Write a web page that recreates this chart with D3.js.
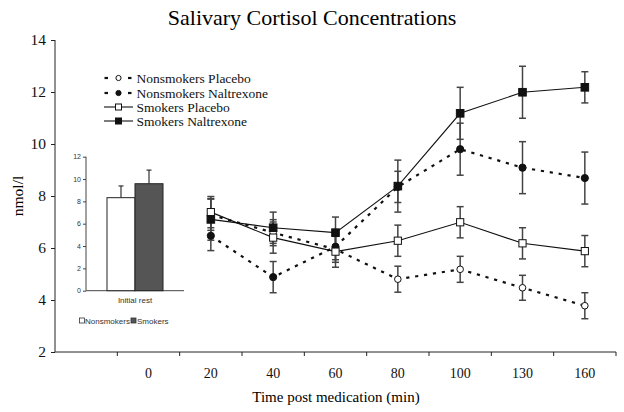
<!DOCTYPE html>
<html><head><meta charset="utf-8">
<script src="https://cdn.jsdelivr.net/npm/d3@7"></script>
<style>body{margin:0;background:#fff}svg{display:block}</style>
</head><body>
<svg id="c" width="624" height="412"></svg>
<script>
// ---- data ----
const categories = ["", "0", "20", "40", "60", "80", "100", "130", "160"];
const times = ["20", "40", "60", "80", "100", "130", "160"];
const yTicks = [2, 4, 6, 8, 10, 12, 14];

const nonsmokersPlacebo = [7.28, 6.59, 5.95, 4.80, 5.18, 4.47, 3.78];
const nonsmokersPlaceboErr = [0.6, 0.5, 0.5, 0.5, 0.5, 0.48, 0.5];
const nonsmokersNaltrexone = [6.47, 4.88, 6.05, 8.35, 9.80, 9.09, 8.69];
const nonsmokersNaltrexoneErr = [0.57, 0.6, 0.5, 0.6, 1.0, 1.0, 1.0];
const smokersPlacebo = [7.38, 6.40, 5.86, 6.28, 6.99, 6.18, 5.88];
const smokersPlaceboErr = [0.6, 0.6, 0.6, 0.6, 0.6, 0.6, 0.6];
const smokersNaltrexone = [7.10, 6.78, 6.59, 8.38, 11.18, 11.99, 12.18];
const smokersNaltrexoneErr = [0.8, 0.6, 0.6, 1.0, 1.0, 1.0, 0.6];

const seriesNames = ["Nonsmokers Placebo", "Nonsmokers Naltrexone", "Smokers Placebo", "Smokers Naltrexone"];

// inset
const insetCategory = ["Initial rest"];
const insetGroups = ["Nonsmokers", "Smokers"];
const insetValues = [8.33, 9.58];
const insetErr = [1.05, 1.22];
const insetTicks = [0, 2, 4, 6, 8, 10, 12];

// ---- drawing ----
const svg = d3.select("#c");
const serif = "'Liberation Serif','Times New Roman',serif";
const sans = "'Liberation Sans',Arial,sans-serif";

const x = d3.scaleBand().domain(categories).range([55, 616]).paddingInner(0).paddingOuter(0);
const y = d3.scaleLinear().domain([2, 14]).range([352, 40]);

// title
svg.append("text").attr("x", 312).attr("y", 25).attr("text-anchor", "middle")
  .attr("font-family", serif).attr("font-size", 22).text("Salivary Cortisol Concentrations");

// y axis
const ya = svg.append("g").attr("transform", "translate(55,0)")
  .call(d3.axisLeft(y).tickValues(yTicks).tickSize(4).tickPadding(5).tickFormat(d3.format("d")));
ya.select(".domain").attr("stroke", "#222").attr("d", `M0,${y(14)}V${y(2)}`);
ya.selectAll(".tick line").attr("stroke", "#222");
ya.selectAll("text").attr("font-family", serif).attr("font-size", 15.5).attr("fill", "#111");

svg.append("text").attr("transform", `translate(23,${y(8)}) rotate(-90)`).attr("text-anchor", "middle")
  .attr("font-family", serif).attr("font-size", 15.5).text("nmol/l");

// x axis
svg.append("line").attr("x1", x.range()[0]).attr("x2", x.range()[1]).attr("y1", y(2)).attr("y2", y(2)).attr("stroke", "#222");
svg.selectAll(".xt").data(categories).enter().append("line")
  .attr("x1", d => x(d) + x.bandwidth()).attr("x2", d => x(d) + x.bandwidth())
  .attr("y1", y(2)).attr("y2", y(2) + 4).attr("stroke", "#222");
svg.selectAll(".xl").data(categories).enter().append("text")
  .attr("x", d => x(d) + x.bandwidth() / 2).attr("y", 378).attr("text-anchor", "middle")
  .attr("font-family", serif).attr("font-size", 14).attr("fill", "#111").text(d => d);
svg.append("text").attr("x", 336).attr("y", 402).attr("text-anchor", "middle")
  .attr("font-family", serif).attr("font-size", 15).text("Time post medication (min)");

// ---- inset bar chart ----
const yi = d3.scaleLinear().domain([0, 12]).range([290.7, 156.7]);
const xi = d3.scaleBand().domain(insetCategory).range([86, 184]);
const cx = xi(insetCategory[0]) + xi.bandwidth() / 2;
const xg = d3.scaleBand().domain(insetGroups).range([cx - 28, cx + 28]);

const ia = svg.append("g").attr("transform", "translate(86,0)")
  .call(d3.axisLeft(yi).tickValues(insetTicks).tickSize(3).tickPadding(2));
ia.select(".domain").attr("stroke", "#444").attr("d", `M0,${yi(12)}V${yi(0)}`);
ia.selectAll(".tick line").attr("stroke", "#444");
ia.selectAll("text").attr("font-family", sans).attr("font-size", 7).attr("fill", "#333");
svg.append("line").attr("x1", 86).attr("x2", 184).attr("y1", yi(0)).attr("y2", yi(0)).attr("stroke", "#444");

const fills = ["#ffffff", "#555555"];
insetGroups.forEach((g, i) => {
  const bx = xg(g), bw = xg.bandwidth(), mx = bx + bw / 2;
  svg.append("line").attr("x1", mx).attr("x2", mx).attr("y1", yi(insetValues[i])).attr("y2", yi(insetValues[i] + insetErr[i])).attr("stroke", "#333").attr("stroke-width", 1.2);
  svg.append("line").attr("x1", mx - 2.5).attr("x2", mx + 2.5).attr("y1", yi(insetValues[i] + insetErr[i])).attr("y2", yi(insetValues[i] + insetErr[i])).attr("stroke", "#333").attr("stroke-width", 1.2);
  svg.append("rect").attr("x", bx).attr("y", yi(insetValues[i])).attr("width", bw).attr("height", yi(0) - yi(insetValues[i]))
    .attr("fill", fills[i]).attr("stroke", "#222").attr("stroke-width", 1);
});
svg.append("text").attr("x", cx).attr("y", 303).attr("text-anchor", "middle")
  .attr("font-family", sans).attr("font-size", 8).attr("fill", "#333").text(insetCategory[0]);
// inset legend
svg.append("rect").attr("x", 79.5).attr("y", 318).attr("width", 5).attr("height", 5).attr("fill", "#fff").attr("stroke", "#333").attr("stroke-width", 0.8);
svg.append("text").attr("x", 85).attr("y", 323.5).attr("font-family", sans).attr("font-size", 8).attr("fill", "#333").text(insetGroups[0]);
svg.append("rect").attr("x", 131).attr("y", 318).attr("width", 5).attr("height", 5).attr("fill", "#555").attr("stroke", "#333").attr("stroke-width", 0.8);
svg.append("text").attr("x", 137).attr("y", 323.5).attr("font-family", sans).attr("font-size", 8).attr("fill", "#333").text(insetGroups[1]);

// ---- series ----
const series = [
  { name: seriesNames[0], v: nonsmokersPlacebo, e: nonsmokersPlaceboErr, dashed: true, shape: "circle", filled: false },
  { name: seriesNames[1], v: nonsmokersNaltrexone, e: nonsmokersNaltrexoneErr, dashed: true, shape: "circle", filled: true },
  { name: seriesNames[2], v: smokersPlacebo, e: smokersPlaceboErr, dashed: false, shape: "square", filled: false },
  { name: seriesNames[3], v: smokersNaltrexone, e: smokersNaltrexoneErr, dashed: false, shape: "square", filled: true }
];
const cxs = t => x(t) + x.bandwidth() / 2;

// error bars
series.forEach(s => {
  const g = svg.append("g").attr("stroke", "#444").attr("stroke-width", 1.5);
  times.forEach((t, i) => {
    const px = cxs(t);
    g.append("line").attr("x1", px).attr("x2", px).attr("y1", y(s.v[i] - s.e[i])).attr("y2", y(s.v[i] + s.e[i]));
    g.append("line").attr("x1", px - 3.5).attr("x2", px + 3.5).attr("y1", y(s.v[i] + s.e[i])).attr("y2", y(s.v[i] + s.e[i]));
    g.append("line").attr("x1", px - 3.5).attr("x2", px + 3.5).attr("y1", y(s.v[i] - s.e[i])).attr("y2", y(s.v[i] - s.e[i]));
  });
});

// lines
const line = d3.line().x((d, i) => cxs(times[i])).y(d => y(d));
series.forEach(s => {
  svg.append("path").datum(s.v).attr("d", line).attr("fill", "none").attr("stroke", "#111")
    .attr("stroke-width", s.dashed ? 2.2 : 1.1).attr("stroke-dasharray", s.dashed ? "3.2,5.8" : null);
});

function marker(g, s, px, py) {
  if (s.shape === "circle") {
    g.append("circle").attr("cx", px).attr("cy", py).attr("r", s.filled ? 3.6 : 3.3)
      .attr("fill", s.filled ? "#111" : "#fff").attr("stroke", "#111").attr("stroke-width", 1);
  } else {
    const h = s.filled ? 3.8 : 3.6;
    g.append("rect").attr("x", px - h).attr("y", py - h).attr("width", 2 * h).attr("height", 2 * h)
      .attr("fill", s.filled ? "#111" : "#fff").attr("stroke", "#111").attr("stroke-width", 1);
  }
}
series.forEach(s => {
  const g = svg.append("g");
  times.forEach((t, i) => marker(g, s, cxs(t), y(s.v[i])));
});

// legend
const legY = [78, 93, 107, 121];
series.forEach((s, i) => {
  const ly = legY[i];
  const g = svg.append("g");
  if (s.dashed) {
    g.append("line").attr("x1", 104.5).attr("x2", 108).attr("y1", ly).attr("y2", ly).attr("stroke", "#111").attr("stroke-width", 2.2);
    g.append("line").attr("x1", 128).attr("x2", 131.5).attr("y1", ly).attr("y2", ly).attr("stroke", "#111").attr("stroke-width", 2.2);
  } else {
    g.append("line").attr("x1", 104).attr("x2", 133).attr("y1", ly).attr("y2", ly).attr("stroke", "#111").attr("stroke-width", 1.1);
  }
  if (s.shape === "circle") {
    g.append("circle").attr("cx", 118.5).attr("cy", ly).attr("r", 2.6).attr("fill", s.filled ? "#111" : "#fff").attr("stroke", "#111");
  } else {
    g.append("rect").attr("x", 115.5).attr("y", ly - 3).attr("width", 6).attr("height", 6).attr("fill", s.filled ? "#111" : "#fff").attr("stroke", "#111");
  }
  g.append("text").attr("x", 136.5).attr("y", ly + 4.5).attr("font-family", serif).attr("font-size", 13.5).attr("fill", "#111").text(s.name);
});
</script>
</body></html>
